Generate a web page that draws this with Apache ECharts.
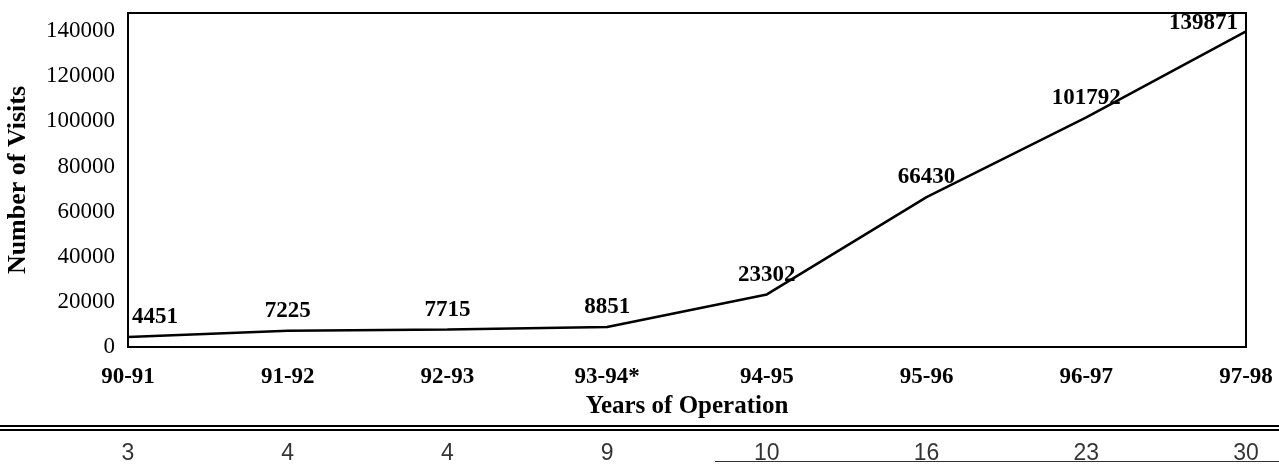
<!DOCTYPE html>
<html>
<head>
<meta charset="utf-8">
<script src="https://cdn.jsdelivr.net/npm/echarts@6/dist/echarts.min.js"></script>
<style>
    html, body { margin: 0; padding: 0; background: #fff; }
    #chart { width: 1279px; height: 464px; }
</style>
</head>
<body>
<div id="chart"></div>
<script>
// values
const years = ['90-91', '91-92', '92-93', '93-94*', '94-95', '95-96', '96-97', '97-98']
const visits = [4451, 7225, 7715, 8851, 23302, 66430, 101792, 139871]
const tableCounts = [3, 4, 4, 9, 10, 16, 23, 30]

const serif = 'Liberation Serif'
const last = visits.length - 1

const chart = echarts.init(document.getElementById('chart'))

const option = {
    animation: false,
    backgroundColor: '#fff',
    grid: [
        {
            left: 128,
            right: 33,
            top: 13,
            bottom: 117,
            show: true,
            borderColor: '#000',
            borderWidth: 2,
            outerBoundsMode: 'none',
        },
        {
            left: 128,
            right: 33,
            top: 437,
            height: 34,
            outerBoundsMode: 'none',
        },
    ],
    xAxis: [
        {
            gridIndex: 0,
            type: 'category',
            data: years,
            boundaryGap: false,
            axisLine: { lineStyle: { color: '#000', width: 2 } },
            axisTick: { show: false },
            axisLabel: {
                color: '#000',
                fontFamily: serif,
                fontWeight: 'bold',
                fontSize: 23,
                margin: 19,
                interval: 0,
            },
            name: 'Years of Operation',
            nameLocation: 'middle',
            nameGap: 43,
            nameTextStyle: {
                color: '#000',
                fontFamily: serif,
                fontWeight: 'bold',
                fontSize: 25,
            },
        },
        {
            gridIndex: 1,
            type: 'category',
            data: years,
            boundaryGap: false,
            show: false,
        },
    ],
    yAxis: [
        {
            gridIndex: 0,
            type: 'value',
            min: 0,
            max: 148000,
            interval: 20000,
            splitLine: { show: false },
            axisLine: { show: true, lineStyle: { color: '#000', width: 2 } },
            axisTick: { show: false },
            axisLabel: {
                color: '#000',
                fontFamily: serif,
                fontSize: 23,
                margin: 13,
                showMaxLabel: false,
                formatter: v => String(v),
            },
            name: 'Number of Visits',
            nameLocation: 'middle',
            nameGap: 97,
            nameTextStyle: {
                color: '#000',
                fontFamily: serif,
                fontWeight: 'bold',
                fontSize: 26,
            },
        },
        {
            gridIndex: 1,
            type: 'category',
            data: [''],
            show: false,
        },
    ],
    graphic: [
        { type: 'rect', shape: { x: 0, y: 425, width: 1279, height: 2 }, style: { fill: '#000' } },
        { type: 'rect', shape: { x: 0, y: 429, width: 1279, height: 2 }, style: { fill: '#000' } },
        { type: 'rect', shape: { x: 715, y: 461, width: 564, height: 1 }, style: { fill: '#333' } },
    ],
    series: [
        {
            type: 'line',
            xAxisIndex: 0,
            yAxisIndex: 0,
            data: visits.map((v, i) => {
                if (i === 0) {
                    return { value: v, label: { align: 'left', offset: [4, 0] } }
                }
                if (i === last) {
                    return { value: v, label: { align: 'right', offset: [-8, 11] } }
                }
                return v
            }),
            showSymbol: true,
            symbol: 'circle',
            symbolSize: 0.1,
            itemStyle: { color: '#000' },
            lineStyle: { color: '#000', width: 2.5 },
            label: {
                show: true,
                position: 'top',
                distance: 8,
                color: '#000',
                fontFamily: serif,
                fontWeight: 'bold',
                fontSize: 23,
            },
        },
        {
            type: 'scatter',
            xAxisIndex: 1,
            yAxisIndex: 1,
            symbolSize: 0.1,
            data: tableCounts.map((v, i) => [years[i], '', v]),
            label: {
                show: true,
                position: 'inside',
                formatter: p => p.value[2],
                color: '#000',
                fontFamily: 'Liberation Sans',
                fontSize: 23,
            },
        },
    ],
}

chart.setOption(option)
</script>
</body>
</html>
